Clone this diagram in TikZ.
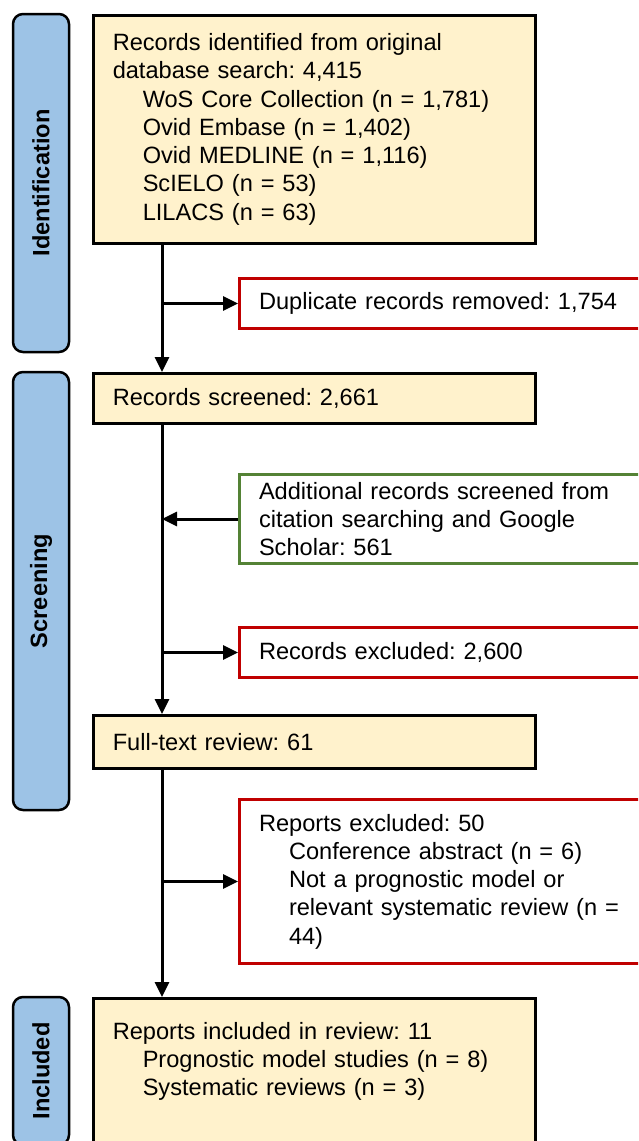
\documentclass[tikz,border=0pt]{standalone}
\usepackage{fontspec}
\setmainfont{Liberation Sans}
\usetikzlibrary{arrows.meta}
\definecolor{boxyellow}{HTML}{FFF2CC}
\definecolor{phaseblue}{HTML}{9DC3E6}
\definecolor{exred}{HTML}{C00000}
\definecolor{addgreen}{HTML}{548235}
\newcommand{\ind}{\hspace*{30pt}}
\frenchspacing
\begin{document}
\begin{tikzpicture}[x=1pt,y=-1pt,
  every node/.style={font=\fontsize{23.6}{28.3}\selectfont},
  phase/.style={draw, line width=2.5pt, fill=phaseblue, rounded corners=10pt,
    minimum height=56pt, rotate=90, inner sep=0pt,
    font=\fontsize{23.6}{28.3}\selectfont\bfseries},
  mainbox/.style={draw, line width=2.5pt, fill=boxyellow, anchor=north west,
    inner xsep=19.5pt, inner ysep=0pt, text width=403pt, minimum width=442pt, align=left},
  exbox/.style={draw=exred, line width=3pt, fill=white, anchor=north west,
    inner xsep=19.5pt, inner ysep=0pt, text width=420pt, align=left},
  addbox/.style={draw=addgreen, line width=3pt, fill=white, anchor=north west,
    inner xsep=19.5pt, inner ysep=0pt, text width=420pt, align=left},
  arr/.style={line width=3pt, -{Triangle[length=15pt,width=14pt]}},
  line/.style={line width=3pt}
]
\useasboundingbox (0,0) rectangle (638,1141);
\clip (0,0) rectangle (638,1141);

% phase bars
\node[phase, minimum width=338pt] (pid) at (41,183) {Identification};
\node[phase, minimum width=438pt] (pscr) at (41,591) {Screening};
\node[phase, minimum width=148pt] (pinc) at (41,1071) {Included};

% main boxes
\node[mainbox, minimum height=228pt] (ident) at (92,14) {Records identified from original\\
database search: 4,415\\
\ind WoS Core Collection (n = 1,781)\\
\ind Ovid Embase (n = 1,402)\\
\ind Ovid MEDLINE (n = 1,116)\\
\ind ScIELO (n = 53)\\
\ind LILACS (n = 63)};

\node[mainbox, minimum height=50pt] (screened) at (92,372) {Records screened: 2,661};
\node[mainbox, minimum height=53pt] (fulltext) at (92,714) {Full-text review: 61};
\node[mainbox, minimum height=150pt] (included) at (92,997) {Reports included in review: 11\\
\ind Prognostic model studies (n = 8)\\
\ind Systematic reviews (n = 3)\\ \mbox{}};

% side boxes
\node[exbox, minimum height=50pt] (dup) at (238,277) {Duplicate records removed: 1,754};
\node[addbox, minimum height=89pt] (add) at (238,473) {Additional records screened from\\
citation searching and Google\\
Scholar: 561};
\node[exbox, minimum height=50pt] (recex) at (238,626) {Records excluded: 2,600};
\node[exbox, minimum height=164pt] (repex) at (238,798) {Reports excluded: 50\\
\ind Conference abstract (n = 6)\\
\ind Not a prognostic model or\\
\ind relevant systematic review (n =\\
\ind 44)};

% spine
\coordinate (spine) at (162,0);
\draw[arr] (spine |- ident.south) -- (spine |- screened.north);
\draw[arr] (spine |- screened.south) -- (spine |- fulltext.north);
\draw[arr] (spine |- fulltext.south) -- (spine |- included.north);

\draw[arr] (spine |- dup.west) -- (dup.west);
\draw[arr] (add.west) -- (spine |- add.west);
\draw[arr] (spine |- recex.west) -- (recex.west);
\draw[arr] (spine |- repex.west) -- (repex.west);
\end{tikzpicture}
\end{document}
